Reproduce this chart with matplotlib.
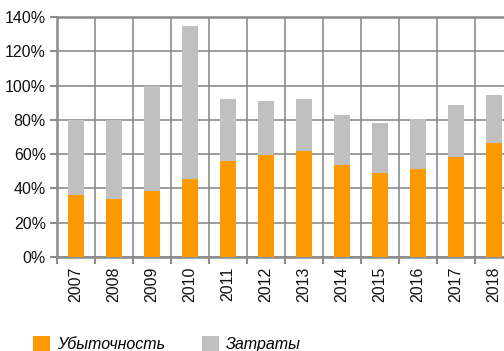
import matplotlib
matplotlib.use("Agg")
import matplotlib.pyplot as plt
import numpy as np
from matplotlib.patches import Patch
from matplotlib.ticker import FixedLocator, PercentFormatter

years = ["2007", "2008", "2009", "2010", "2011", "2012",
         "2013", "2014", "2015", "2016", "2017", "2018"]
loss_ratio = [36, 34, 38.5, 45.5, 56, 59.5, 62, 53.5, 49, 51.5, 58.5, 66.5]
expense_ratio = [44, 46, 61.5, 89.5, 36, 31.5, 30, 29.5, 29, 29, 30, 28]
yticks = [0, 20, 40, 60, 80, 100, 120, 140]

plt.rcParams["font.family"] = ["Liberation Sans", "DejaVu Sans"]

W, H = 504, 351
fig = plt.figure(figsize=(W / 100, H / 100), dpi=100)
ax = fig.add_axes([57 / W, (H - 257) / H, (513 - 57) / W, (257 - 17) / H])

orange = "#FF9900"
grey = "#C0C0C0"
gridc = "#8C8C8C"

x = np.arange(len(years))
ax.bar(x, loss_ratio, width=0.42, color=orange, zorder=3)
ax.bar(x, expense_ratio, width=0.42, bottom=loss_ratio, color=grey, zorder=3)

ax.set_xlim(-0.5, len(years) - 0.5)
ax.set_ylim(0, 140)
ax.set_yticks(yticks)
ax.yaxis.set_major_formatter(PercentFormatter(decimals=0))
ax.set_xticks(x)
ax.set_xticklabels(years, rotation=90)
ax.xaxis.set_minor_locator(FixedLocator(np.arange(-0.5, len(years), 1)))

ax.tick_params(axis="x", which="major", length=0, pad=7, labelsize=11.5, colors="#111111")
ax.tick_params(axis="x", which="minor", length=5, width=1.5, color=gridc)
ax.tick_params(axis="y", length=5, width=1.5, color=gridc, labelsize=11.5,
               pad=3, labelcolor="#111111")

ax.grid(True, axis="y", which="major", color=gridc, lw=1.2, zorder=1)
ax.grid(True, axis="x", which="minor", color=gridc, lw=1.2, zorder=1)
ax.grid(False, axis="x", which="major")

for side in ["left", "bottom", "top"]:
    ax.spines[side].set_color("#8C8C8C")
    ax.spines[side].set_linewidth(1.8)
ax.spines["right"].set_visible(False)

handles = [Patch(facecolor=orange, edgecolor="none", label="Убыточность"),
           Patch(facecolor=grey, edgecolor="none", label="Затраты")]
fig.legend(handles=handles, loc="lower left", bbox_to_anchor=(19 / W, -15 / H),
           ncol=2, frameon=False, handlelength=1.05, handleheight=1.05,
           handletextpad=0.45, columnspacing=2.3,
           prop={"style": "italic", "size": 11.5})

fig.savefig("out.png", dpi=100)
